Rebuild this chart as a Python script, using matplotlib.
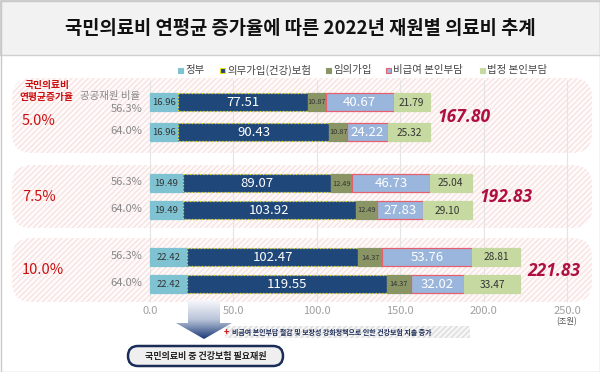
import numpy as np
import matplotlib
matplotlib.use("Agg")
import matplotlib.pyplot as plt
from matplotlib.patches import Rectangle, FancyBboxPatch, Polygon
from matplotlib.colors import LinearSegmentedColormap

plt.rcParams['font.family'] = ['Noto Sans CJK KR', 'DejaVu Sans']

# data
title = "국민의료비 연평균 증가율에 따른 2022년 재원별 의료비 추계"
growth_rates = ['5.0%', '7.5%', '10.0%']
public_ratios = ['56.3%', '64.0%']
series_names = ['정부', '의무가입(건강)보험', '임의가입', '비급여 본인부담', '법정 본인부담']
gov = [16.96, 16.96, 19.49, 19.49, 22.42, 22.42]
mandatory = [77.51, 90.43, 89.07, 103.92, 102.47, 119.55]
voluntary = [10.87, 10.87, 12.49, 12.49, 14.37, 14.37]
non_covered = [40.67, 24.22, 46.73, 27.83, 53.76, 32.02]
statutory = [21.79, 25.32, 25.04, 29.10, 28.81, 33.47]
totals = [167.80, 192.83, 221.83]
x_ticks = [0, 50, 100, 150, 200, 250]

# styles
faces = ['#7fc3d3', '#1f477a', '#8a9566', '#9ab6dc', '#c6d9a1']
edges = ['#7fc3d3', '#e6df1a', '#8a9566', '#e4606e', '#c6d9a1']
styles = ['-', ':', '-', '-', '-']
txt_colors = ['#333333', 'white', '#333333', 'white', '#333333']
txt_sizes = [6.8, 9.5, 5.3, 9.5, 7.3]
red = '#cc1010'

# layout (pixels)
row_y = [102, 132, 183, 210, 257, 284]
panels = [(78, 153), (165, 228), (238, 302)]
scale = (567 - 150) / 250.0


def px(x):
    return (x - 150) / scale


fig = plt.figure(figsize=(6, 3.72), dpi=100)
ax = fig.add_axes([0, 0, 1, 1])
ax.axis('off')

# title band
ax.add_patch(Rectangle((px(0), 0), 600 / scale, 55, facecolor='#f2f2f2',
                       edgecolor='#d0d0d0', lw=1, zorder=0))
ax.text(px(300), 28, title, ha='center', va='center', fontsize=13.5,
        fontweight='bold', color='#111111')

# hatched panels
for y0, y1 in panels:
    ax.add_patch(FancyBboxPatch((px(12), y0), 580 / scale, y1 - y0,
                                boxstyle=f"round,pad=0,rounding_size={20 / scale}",
                                mutation_aspect=scale, facecolor='#fffbfb',
                                edgecolor='#f8e2e2', hatch='//////', lw=0, zorder=0.5))

ax.vlines(x_ticks, 80, 302, color='#e4e4e4', lw=0.8, zorder=1)

# stacked bars
series = [gov, mandatory, voluntary, non_covered, statutory]
left = np.zeros(len(row_y))
for i, vals in enumerate(series):
    vals = np.array(vals)
    ax.barh(row_y, vals, left=left, height=18, color=faces[i], edgecolor=edges[i],
            linestyle=styles[i], lw=0.9, zorder=2)
    for y, l, v in zip(row_y, left, vals):
        ax.text(l + v / 2, y + 0.5, f"{v:.2f}", ha='center', va='center',
                fontsize=txt_sizes[i], color=txt_colors[i], zorder=3)
    left += vals

# totals
for g, tot in enumerate(totals):
    ym = (row_y[2 * g] + row_y[2 * g + 1]) / 2
    ax.text(tot + 4.5, ym, f"{tot:.2f}", ha='left', va='center', fontsize=12.5,
            fontstyle='italic', fontweight='bold', family='Open Sans',
            color='#b0103f', zorder=3)

# left labels
ax.text(px(47), 91, "국민의료비\n연평균증가율", ha='center', va='center', fontsize=7,
        fontweight='bold', color=red, linespacing=1.35)
rate_y = [121, 197, 270]
for r, y in zip(growth_rates, rate_y):
    ax.text(px(22), y, r, ha='left', va='center', fontsize=10.5, color=red)

ax.text(px(140), 96, "공공재원 비율", ha='right', va='center', fontsize=7.5, color='#888888')
for g in range(3):
    for k, lab in enumerate(public_ratios):
        y = row_y[2 * g + k] - 1
        if g == 0 and k == 0:
            y = 109
        ax.text(px(142), y, lab, ha='right', va='center', fontsize=8, color='#888888')

# legend
leg_x = [180, 222, 328, 388, 482]
for name, fc, ec, x in zip(series_names, faces, edges, leg_x):
    ax.add_patch(Rectangle((px(x - 2.5), 67.5), 5 / scale, 5, facecolor=fc,
                           edgecolor=ec, lw=0.8, zorder=3))
    ax.text(px(x + 5), 70, name, ha='left', va='center', fontsize=7.5, color='#444444')

# x tick labels
for t in x_ticks:
    ax.text(t, 311, f"{t:.1f}", ha='center', va='center', fontsize=8, color='#a0a0a0')
ax.text(250, 322, "(조원)", ha='center', va='center', fontsize=6, color='#555555')

# gradient arrow
arrow_px = [(188, 300), (220, 300), (220, 323), (232, 323), (204, 339), (176, 323), (188, 323)]
arrow = Polygon([(px(a), b) for a, b in arrow_px], closed=True, facecolor='none',
                edgecolor='none', zorder=3)
ax.add_patch(arrow)
cmap = LinearSegmentedColormap.from_list('arr', ['#f7f8fb', '#b9c4d9', '#1c3a76'])
im = ax.imshow(np.linspace(0, 1, 100).reshape(-1, 1), cmap=cmap, aspect='auto',
               extent=(px(176), px(232), 339, 300), origin='upper', zorder=3)
im.set_clip_path(arrow)

# note strip
ax.add_patch(Rectangle((px(225), 326), 245 / scale, 12, facecolor='#f6f6f6',
                       edgecolor='#dcdcdc', hatch='//////', lw=0, zorder=2))
ax.text(px(226), 332, "+", ha='center', va='center', fontsize=6.5, fontweight='bold',
        color=red, zorder=4)
ax.text(px(232), 332, "비급여 본인부담 절감 및 보장성 강화정책으로 인한 건강보험 지출 증가",
        ha='left', va='center', fontsize=5, fontweight='bold', color='#1f2f5a', zorder=4)

# bottom box
ax.add_patch(FancyBboxPatch((px(128), 346), 155 / scale, 20,
                            boxstyle=f"round,pad=0,rounding_size={10 / scale}",
                            mutation_aspect=scale, facecolor='#efefef',
                            edgecolor='#1a2c58', lw=1.8, zorder=3))
ax.text(px(205.5), 356, "국민의료비 중 건강보험 필요재원", ha='center', va='center',
        fontsize=6.5, fontweight='bold', color='#222222', zorder=4)

# outer border
ax.add_patch(Rectangle((px(0.5), 0.5), 599 / scale, 371, facecolor='none',
                       edgecolor='#c8c8c8', lw=1, zorder=5))

ax.set_xlim(px(0), px(600))
ax.set_ylim(372, 0)
fig.savefig('out.png', dpi=100)
